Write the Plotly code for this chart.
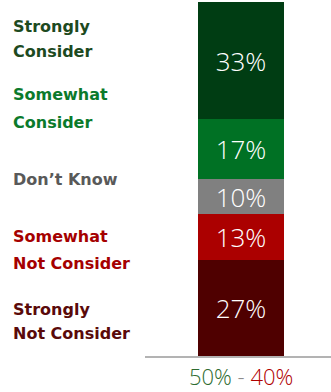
import plotly.graph_objects as go

# Data (bottom to top of stack)
categories = ["Strongly Not Consider", "Somewhat Not Consider", "Don\u2019t Know", "Somewhat Consider", "Strongly Consider"]
values = [27, 13, 10, 17, 33]
bar_colors = ["#4f0000", "#ab0000", "#808080", "#007124", "#003d13"]

# Left-hand label lines (top to bottom)
label_lines = ["Strongly", "Consider", "Somewhat", "Consider", "Don\u2019t Know",
               "Somewhat", "Not Consider", "Strongly", "Not Consider"]
label_colors = ["#1d4a1f", "#1d4a1f", "#0b7a2b", "#0b7a2b", "#595959",
                "#a50000", "#a50000", "#5a0a0a", "#5a0a0a"]
label_px = [26, 51, 95, 122, 180, 237, 263, 309, 333]

consider = values[3] + values[4]
not_consider = values[0] + values[1]

W, H = 331, 392
ml, mr, mt, mb = 145, 0, 2, 36
pw, ph = W - ml - mr, H - mt - mb

fig = go.Figure()
for cat, v, c in zip(categories, values, bar_colors):
    fig.add_trace(go.Bar(
        x=[0], y=[v], name=cat, width=1,
        marker=dict(color=c, line=dict(width=0)),
        text=[f"{v}%"], textposition="inside", insidetextanchor="middle",
        constraintext="none",
        textfont=dict(color="#ffffff", size=26, family="Open Sans", weight=300),
        hoverinfo="skip",
    ))

annotations = []
for txt, col, py in zip(label_lines, label_colors, label_px):
    annotations.append(dict(
        text=txt, xref="paper", yref="paper",
        x=(11 - ml) / pw, y=(H - mb - py) / ph,
        xanchor="left", yanchor="middle", showarrow=False,
        font=dict(family="DejaVu Sans", size=16, color=col, weight="bold"),
    ))

annotations.append(dict(
    text=(f"<span style='color:#2e6b30'>{consider}%</span>"
          f"<span style='color:#8c8c8c'> - </span>"
          f"<span style='color:#b00000'>{not_consider}%</span>"),
    xref="paper", yref="paper",
    x=(241 - ml) / pw, y=(H - mb - 376) / ph,
    xanchor="center", yanchor="middle", showarrow=False, borderpad=0,
    font=dict(family="Open Sans", size=22, weight=300),
))

left_units = (198 - ml) / 86.0
fig.update_layout(
    width=W, height=H,
    margin=dict(l=ml, r=mr, t=mt, b=mb, pad=0),
    barmode="stack", bargap=0,
    showlegend=False,
    plot_bgcolor="white", paper_bgcolor="white",
    xaxis=dict(range=[-0.5 - left_units, -0.5 - left_units + pw / 86.0],
               showticklabels=False, showgrid=False, zeroline=False,
               showline=True, linecolor="#b3b3b3", linewidth=2, fixedrange=True),
    yaxis=dict(range=[0, 100], visible=False, fixedrange=True),
    annotations=annotations,
)

fig.write_html("out.html", config={"displayModeBar": False})
